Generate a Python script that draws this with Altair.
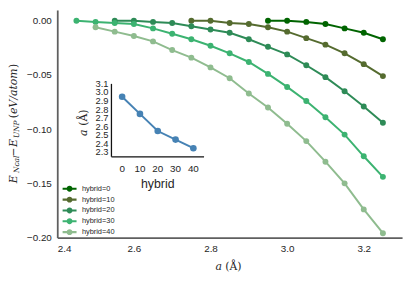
import altair as alt
import pandas as pd

# ---------------- data ----------------
hybrid_labels = ["hybrid=0", "hybrid=10", "hybrid=20", "hybrid=30", "hybrid=40"]
series_colors = ["#006400", "#556B2F", "#2E8B57", "#3CB371", "#8FBC8F"]

a_h0 = [2.95, 3.00, 3.05, 3.10, 3.15, 3.20, 3.25]
e_h0 = [0.000, 0.000, -0.001, -0.003, -0.007, -0.011, -0.017]

a_h10 = [2.75, 2.80, 2.85, 2.90, 2.95, 3.00, 3.05, 3.10, 3.15, 3.20, 3.25]
e_h10 = [0.000, 0.000, -0.002, -0.003, -0.006, -0.010, -0.016, -0.022, -0.030, -0.040, -0.051]

a_h20 = [2.55, 2.60, 2.65, 2.70, 2.75, 2.80, 2.85, 2.90, 2.95, 3.00, 3.05, 3.10, 3.15, 3.20, 3.25]
e_h20 = [0.000, 0.000, -0.001, -0.002, -0.005, -0.008, -0.011, -0.017, -0.024, -0.031, -0.041,
         -0.052, -0.065, -0.079, -0.094]

a_h30 = [2.45, 2.50, 2.55, 2.60, 2.65, 2.70, 2.75, 2.80, 2.85, 2.90, 2.95, 3.00, 3.05, 3.10,
         3.15, 3.20, 3.25]
e_h30 = [0.000, -0.001, -0.002, -0.003, -0.007, -0.012, -0.017, -0.023, -0.030, -0.038, -0.049,
         -0.061, -0.074, -0.089, -0.105, -0.125, -0.144]

a_h40 = [2.50, 2.55, 2.60, 2.65, 2.70, 2.75, 2.80, 2.85, 2.90, 2.95, 3.00, 3.05, 3.10, 3.15,
         3.20, 3.25]
e_h40 = [-0.006, -0.010, -0.014, -0.019, -0.027, -0.034, -0.043, -0.053, -0.067, -0.080, -0.095,
         -0.111, -0.130, -0.150, -0.174, -0.196]

main_xticks = [2.4, 2.6, 2.8, 3.0, 3.2]
main_yticks = [-0.20, -0.15, -0.10, -0.05, 0.00]

inset_hybrid = [0, 10, 20, 30, 40]
inset_a = [2.95, 2.75, 2.55, 2.45, 2.35]
inset_yticks = [2.3, 2.4, 2.5, 2.6, 2.7, 2.8, 2.9, 3.0, 3.1]
inset_xticks = [0, 10, 20, 30, 40]

# ---------------- tables ----------------
rows = []
for lab, al, el in zip(hybrid_labels, [a_h0, a_h10, a_h20, a_h30, a_h40],
                       [e_h0, e_h10, e_h20, e_h30, e_h40]):
    for a, e in zip(al, el):
        rows.append({"series": lab, "a": a, "e": e})
df = pd.DataFrame(rows)
df_inset = pd.DataFrame({"h": inset_hybrid, "a": inset_a})
df_iy = pd.DataFrame({"v": inset_yticks})
df_ix = pd.DataFrame({"v": inset_xticks})
df_spine = pd.DataFrame({"x0": [-6], "x1": [46], "y0": [2.25], "y1": [3.1]})
one = pd.DataFrame({"k": [0]})

SANS = "Liberation Sans"
SERIF = "DejaVu Serif"
TXT = "#262626"

# ---------------- main plot ----------------
x_main = alt.Scale(domain=[2.4, 3.3], nice=False, zero=False)
y_main = alt.Scale(domain=[-0.20, 0.01], nice=False, zero=False)
cscale = alt.Scale(domain=hybrid_labels, range=series_colors)

base = alt.Chart(df).encode(
    x=alt.X("a:Q", scale=x_main, title=None,
            axis=alt.Axis(values=main_xticks, format=".1f")),
    y=alt.Y("e:Q", scale=y_main, title=None,
            axis=alt.Axis(values=main_yticks, format=".2f")),
)

sym = ("M-1,-0.15 L1,-0.15 L1,0.15 L-1,0.15 Z "
       "M0.42,0 A0.42,0.42 0 1,1 -0.42,0 A0.42,0.42 0 1,1 0.42,0 Z")

lines = base.mark_line(strokeWidth=2).encode(
    stroke=alt.Stroke("series:N", scale=cscale, sort=hybrid_labels, legend=None)
)
points = base.mark_point(filled=True, size=36, opacity=1).encode(
    color=alt.Color("series:N", scale=cscale, sort=hybrid_labels,
                    legend=alt.Legend(title=None, orient="none", legendX=5, legendY=174,
                                      symbolType=sym, symbolSize=200, symbolStrokeWidth=0,
                                      symbolOpacity=1,
                                      labelFont=SANS, labelFontSize=7.5, labelColor=TXT,
                                      labelOffset=5, rowPadding=-2, padding=0))
)
main = alt.layer(lines, points)

# ---------------- inset ----------------
xs_in = alt.Scale(domain=[-6, 46], range=[55, 149], nice=False, zero=False)
ys_in = alt.Scale(domain=[2.25, 3.1], range=[149, 75], nice=False, zero=False)

ibase = alt.Chart(df_inset).encode(
    x=alt.X("h:Q", scale=xs_in, axis=None),
    y=alt.Y("a:Q", scale=ys_in, axis=None),
)
iline = ibase.mark_line(color="#4682B4", strokeWidth=2)
ipts = ibase.mark_point(filled=True, size=45, color="#4682B4", opacity=1)

spine_l = alt.Chart(df_spine).mark_rule(color="#111111", strokeWidth=1.3).encode(
    x=alt.X("x0:Q", scale=xs_in, axis=None),
    y=alt.Y("y0:Q", scale=ys_in, axis=None),
    y2="y1:Q",
)
spine_b = alt.Chart(df_spine).mark_rule(color="#111111", strokeWidth=1.3).encode(
    x=alt.X("x0:Q", scale=xs_in, axis=None),
    x2="x1:Q",
    y=alt.Y("y0:Q", scale=ys_in, axis=None),
)
iylab = alt.Chart(df_iy).mark_text(align="right", baseline="middle", font=SANS,
                                   fontSize=9.5, color=TXT).encode(
    x=alt.value(52),
    y=alt.Y("v:Q", scale=ys_in, axis=None),
    text=alt.Text("v:Q", format=".1f"),
)
ixlab = alt.Chart(df_ix).mark_text(align="center", baseline="middle", font=SANS,
                                   fontSize=10, color=TXT).encode(
    x=alt.X("v:Q", scale=xs_in, axis=None),
    y=alt.value(161),
    text=alt.Text("v:Q", format="d"),
)
ixtitle = alt.Chart(one).mark_text(align="center", baseline="middle", font=SANS,
                                   fontSize=12.5, color=TXT).encode(
    x=alt.value(102), y=alt.value(177), text=alt.value("hybrid"))
iyt_a = alt.Chart(one).mark_text(align="left", baseline="alphabetic", font=SERIF,
                                 fontStyle="italic", fontSize=11, angle=270, color=TXT).encode(
    x=alt.value(30), y=alt.value(128), text=alt.value("a"))
iyt_b = alt.Chart(one).mark_text(align="left", baseline="alphabetic", font=SERIF,
                                 fontSize=11, angle=270, color=TXT).encode(
    x=alt.value(30), y=alt.value(117.5), text=alt.value("(Å)"))

inset = alt.layer(iline, ipts, spine_l, spine_b, iylab, ixlab, ixtitle, iyt_a, iyt_b)

# ---------------- axis titles (math-like) ----------------
def piece(txt, x, y, size, italic=True, angle=0, baseline="alphabetic"):
    kw = dict(align="left", baseline=baseline, font=SERIF, fontSize=size, color=TXT)
    if italic:
        kw["fontStyle"] = "italic"
    if angle:
        kw["angle"] = angle
    return alt.Chart(one).mark_text(**kw).encode(
        x=alt.value(x), y=alt.value(y), text=alt.value(txt))

ytitle = [
    piece("E", -41, 176, 11, True, 270),
    piece("Ncal", -38.5, 165.5, 7.5, True, 270),
    piece("−", -41, 149, 11, False, 270),
    piece("E", -41, 139, 11, True, 270),
    piece("UNP", -38.5, 130, 7.5, True, 270),
    piece("(", -41, 110, 11, False, 270),
    piece("eV/atom", -41, 105.5, 11, True, 270),
    piece(")", -41, 59, 11, False, 270),
]
xtitle = [
    piece("a", 160.7, 261, 11, True, 0, "middle"),
    piece("(Å)", 170.5, 261, 11, False, 0, "middle"),
]

chart = alt.layer(main, inset, *ytitle, *xtitle).resolve_scale(
    x="independent", y="independent", color="independent"
).properties(
    width=350, height=231,
    autosize=alt.AutoSizeParams(type="none"),
    padding={"left": 50, "top": 0, "right": 5, "bottom": 36},
).configure_view(stroke=None).configure_axis(
    labelFont=SANS, labelFontSize=10, labelColor=TXT, ticks=False, grid=False,
    domainColor="#5f5f5f", domainWidth=1.8, labelPadding=6,
)

chart.save("out.html", embed_options={"renderer": "svg", "actions": False})
